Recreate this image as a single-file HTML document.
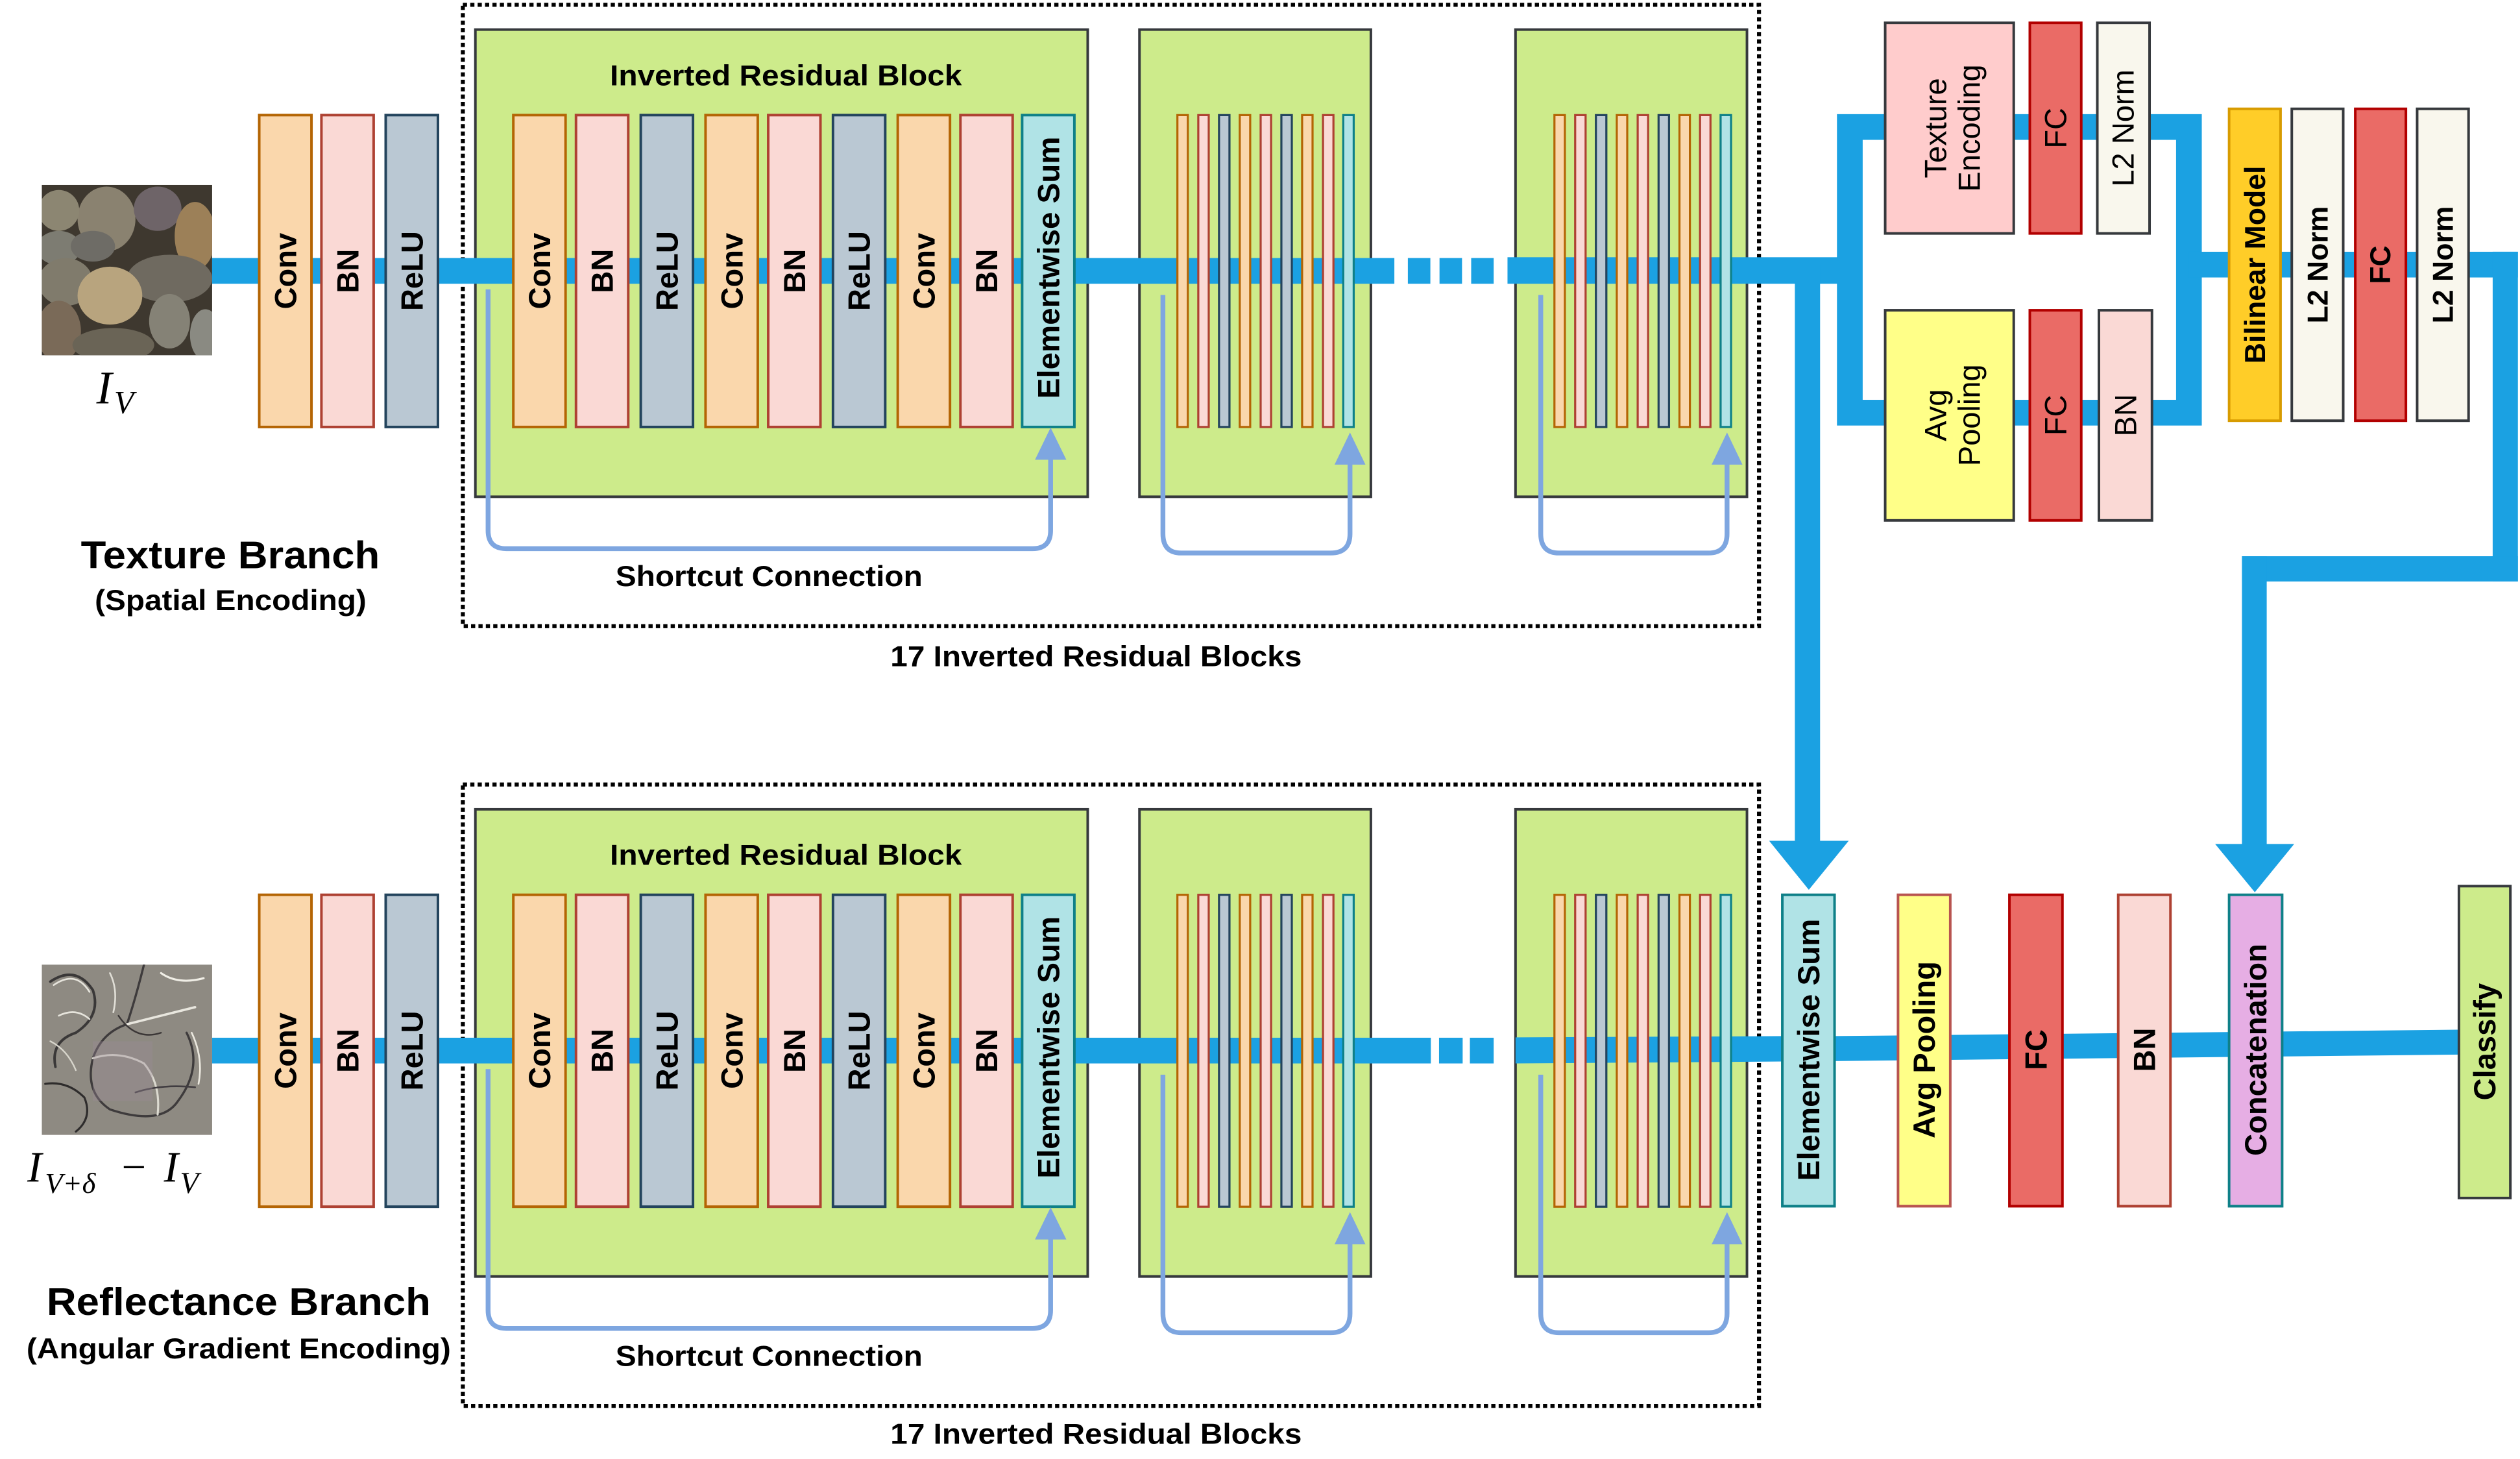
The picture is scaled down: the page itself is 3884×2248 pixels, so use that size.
<!DOCTYPE html>
<html><head><meta charset="utf-8"><style>
html,body{margin:0;padding:0;background:#fff;}
svg{display:block;}
.b{font-family:"Liberation Sans",Arial,sans-serif;font-weight:bold;}
.r{font-family:"Liberation Sans",Arial,sans-serif;}
.m{font-family:"Liberation Serif",serif;font-style:italic;}
</style></head><body>
<svg width="3884" height="2248" viewBox="0 0 1568 907.55" preserveAspectRatio="none" xmlns="http://www.w3.org/2000/svg">
<defs>
<clipPath id="ci"><rect x="0" y="0" width="100" height="100"/></clipPath>
</defs>
<rect width="1568" height="908" fill="#fff"/>

<!-- ================= TOP BRANCH ================= -->
<g transform="translate(26,115) scale(1.06)" clip-path="url(#ci)">
<rect width="100" height="100" fill="#3e382f"/>
<ellipse cx="38" cy="20" rx="17" ry="19" fill="#8a8270"/>
<ellipse cx="68" cy="14" rx="14" ry="13" fill="#6e6468"/>
<ellipse cx="90" cy="30" rx="12" ry="20" fill="#9c8058"/>
<ellipse cx="10" cy="15" rx="12" ry="12" fill="#8c8672"/>
<ellipse cx="10" cy="37" rx="13" ry="10" fill="#7d7c72"/>
<ellipse cx="30" cy="36" rx="13" ry="9" fill="#6e6c66"/>
<ellipse cx="75" cy="55" rx="25" ry="14" fill="#6f6a60"/>
<ellipse cx="14" cy="57" rx="16" ry="14" fill="#807b6c"/>
<ellipse cx="40" cy="65" rx="19" ry="17" fill="#b8a47e"/>
<ellipse cx="75" cy="80" rx="12" ry="16" fill="#858276"/>
<ellipse cx="10" cy="86" rx="13" ry="18" fill="#7a6a58"/>
<ellipse cx="42" cy="94" rx="24" ry="10" fill="#6a6456"/>
<ellipse cx="96" cy="88" rx="9" ry="15" fill="#8a8a82"/>
</g>
<text class="m" x="60" y="251" font-size="29">I</text><text class="m" x="71" y="257" font-size="20">V</text>

<rect x="288" y="3" width="806.5" height="386.5" fill="none" stroke="#000" stroke-width="2.5" stroke-dasharray="2.6 2"/>
<rect x="295.8" y="18.4" width="381" height="290.6" fill="#cdeb8b" stroke="#36393d" stroke-width="1.6"/>
<rect x="709" y="18.4" width="144" height="290.6" fill="#cdeb8b" stroke="#36393d" stroke-width="1.6"/>
<rect x="943" y="18.4" width="144" height="290.6" fill="#cdeb8b" stroke="#36393d" stroke-width="1.6"/>

<rect x="132" y="160.5" width="735.6" height="16" fill="#1ba1e2"/>
<rect x="876" y="160.5" width="14" height="16" fill="#1ba1e2"/>
<rect x="895.7" y="160.5" width="14" height="16" fill="#1ba1e2"/>
<rect x="915.4" y="160.5" width="14" height="16" fill="#1ba1e2"/>
<rect x="938" y="160" width="213" height="16.5" fill="#1ba1e2"/>
<rect x="1116.8" y="165" width="15.7" height="359" fill="#1ba1e2"/>
<polygon points="1100.8,523 1150.3,523 1125.5,553.5" fill="#1ba1e2"/>
<rect x="1151" y="79" width="211" height="177.7" fill="none" stroke="#1ba1e2" stroke-width="16"/>
<rect x="1362" y="156.6" width="204.7" height="16" fill="#1ba1e2"/>
<rect x="1551" y="156.6" width="15.7" height="205" fill="#1ba1e2"/>
<rect x="1395" y="346" width="171.7" height="15.7" fill="#1ba1e2"/>
<rect x="1395" y="346" width="15.4" height="180" fill="#1ba1e2"/>
<polygon points="1378.3,525 1427.5,525 1403,555" fill="#1ba1e2"/>

<g stroke-width="1.6">
<rect x="161.3" y="71.6" width="32.5" height="194" fill="#fad7ac" stroke="#b46504"/>
<rect x="200" y="71.6" width="32.5" height="194" fill="#fad9d5" stroke="#ae4132"/>
<rect x="240" y="71.6" width="32.5" height="194" fill="#bac8d3" stroke="#23445d"/>
<rect x="319.4" y="71.6" width="32.5" height="194" fill="#fad7ac" stroke="#b46504"/>
<rect x="358.4" y="71.6" width="32.5" height="194" fill="#fad9d5" stroke="#ae4132"/>
<rect x="398.7" y="71.6" width="32.5" height="194" fill="#bac8d3" stroke="#23445d"/>
<rect x="439" y="71.6" width="32.5" height="194" fill="#fad7ac" stroke="#b46504"/>
<rect x="478" y="71.6" width="32.5" height="194" fill="#fad9d5" stroke="#ae4132"/>
<rect x="518.3" y="71.6" width="32.5" height="194" fill="#bac8d3" stroke="#23445d"/>
<rect x="558.6" y="71.6" width="32.5" height="194" fill="#fad7ac" stroke="#b46504"/>
<rect x="597.6" y="71.6" width="32.5" height="194" fill="#fad9d5" stroke="#ae4132"/>
<rect x="636" y="71.6" width="32.5" height="194" fill="#b0e3e6" stroke="#0e8088"/>
</g>
<g stroke-width="1.3">
<rect x="732.6" y="71.6" width="6.5" height="194" fill="#fad7ac" stroke="#b46504"/>
<rect x="745.6" y="71.6" width="6.5" height="194" fill="#fad9d5" stroke="#ae4132"/>
<rect x="758.5" y="71.6" width="6.5" height="194" fill="#bac8d3" stroke="#23445d"/>
<rect x="771.4" y="71.6" width="6.5" height="194" fill="#fad7ac" stroke="#b46504"/>
<rect x="784.4" y="71.6" width="6.5" height="194" fill="#fad9d5" stroke="#ae4132"/>
<rect x="797.3" y="71.6" width="6.5" height="194" fill="#bac8d3" stroke="#23445d"/>
<rect x="810.2" y="71.6" width="6.5" height="194" fill="#fad7ac" stroke="#b46504"/>
<rect x="823.2" y="71.6" width="6.5" height="194" fill="#fad9d5" stroke="#ae4132"/>
<rect x="835.8" y="71.6" width="6.5" height="194" fill="#b0e3e6" stroke="#0e8088"/>
<rect x="967.2" y="71.6" width="6.5" height="194" fill="#fad7ac" stroke="#b46504"/>
<rect x="980.1" y="71.6" width="6.5" height="194" fill="#fad9d5" stroke="#ae4132"/>
<rect x="993" y="71.6" width="6.5" height="194" fill="#bac8d3" stroke="#23445d"/>
<rect x="1006" y="71.6" width="6.5" height="194" fill="#fad7ac" stroke="#b46504"/>
<rect x="1019" y="71.6" width="6.5" height="194" fill="#fad9d5" stroke="#ae4132"/>
<rect x="1032" y="71.6" width="6.5" height="194" fill="#bac8d3" stroke="#23445d"/>
<rect x="1045" y="71.6" width="6.5" height="194" fill="#fad7ac" stroke="#b46504"/>
<rect x="1057.8" y="71.6" width="6.5" height="194" fill="#fad9d5" stroke="#ae4132"/>
<rect x="1070.6" y="71.6" width="6.5" height="194" fill="#b0e3e6" stroke="#0e8088"/>
</g>
<g fill="none" stroke="#7ea6e0" stroke-width="3">
<path d="M303.7,180 V330 Q303.7,341.3 315,341.3 H642.5 Q653.7,341.3 653.7,330 V284"/>
<path d="M723.6,183.5 V332 Q723.6,344 735,344 H828 Q840,344 840,332 V286"/>
<path d="M958.7,183.5 V332 Q958.7,344 970,344 H1063 Q1074.6,344 1074.6,332 V286"/>
</g>
<g fill="#7ea6e0">
<polygon points="644,286 663.5,286 653.7,266"/>
<polygon points="830.4,289 849.6,289 840,269"/>
<polygon points="1065,289 1084.2,289 1074.6,269"/>
</g>

<g stroke-width="1.6">
<rect x="1173" y="14.2" width="80" height="131" fill="#ffcccc" stroke="#36393d"/>
<rect x="1263" y="14.2" width="32" height="131" fill="#ea6b66" stroke="#b20000"/>
<rect x="1305" y="14.2" width="32.5" height="131" fill="#f9f7ed" stroke="#36393d"/>
<rect x="1173" y="193" width="80" height="130.7" fill="#ffff88" stroke="#36393d"/>
<rect x="1263" y="193" width="32" height="130.7" fill="#ea6b66" stroke="#b20000"/>
<rect x="1306" y="193" width="33" height="130.7" fill="#fad9d5" stroke="#36393d"/>
<rect x="1387" y="67.7" width="32" height="194" fill="#ffcd28" stroke="#d79b00"/>
<rect x="1426" y="67.7" width="32" height="194" fill="#f9f7ed" stroke="#36393d"/>
<rect x="1465.5" y="67.7" width="31.5" height="194" fill="#ea6b66" stroke="#b20000"/>
<rect x="1504" y="67.7" width="32" height="194" fill="#f9f7ed" stroke="#36393d"/>
</g>

<g class="b" font-size="19" text-anchor="middle">
<text transform="translate(177.6,168.6) rotate(-90)" dy="0.35em">Conv</text>
<text transform="translate(216.3,168.6) rotate(-90)" dy="0.35em">BN</text>
<text transform="translate(256.3,168.6) rotate(-90)" dy="0.35em">ReLU</text>
<text transform="translate(335.7,168.6) rotate(-90)" dy="0.35em">Conv</text>
<text transform="translate(374.7,168.6) rotate(-90)" dy="0.35em">BN</text>
<text transform="translate(415,168.6) rotate(-90)" dy="0.35em">ReLU</text>
<text transform="translate(455.3,168.6) rotate(-90)" dy="0.35em">Conv</text>
<text transform="translate(494.3,168.6) rotate(-90)" dy="0.35em">BN</text>
<text transform="translate(534.6,168.6) rotate(-90)" dy="0.35em">ReLU</text>
<text transform="translate(574.9,168.6) rotate(-90)" dy="0.35em">Conv</text>
<text transform="translate(613.9,168.6) rotate(-90)" dy="0.35em">BN</text>
<text transform="translate(652.3,166.5) rotate(-90)" dy="0.35em" textLength="163" lengthAdjust="spacingAndGlyphs">Elementwise Sum</text>
<text transform="translate(1403,164.7) rotate(-90)" dy="0.35em" font-size="18">Bilinear Model</text>
<text transform="translate(1442,164.7) rotate(-90)" dy="0.35em" font-size="18">L2 Norm</text>
<text transform="translate(1481,164.7) rotate(-90)" dy="0.35em" font-size="18">FC</text>
<text transform="translate(1520,164.7) rotate(-90)" dy="0.35em" font-size="18">L2 Norm</text>
</g>
<g class="r" font-size="19" text-anchor="middle">
<text transform="translate(1213,79.7) rotate(-90)"><tspan x="0" dy="-2">Texture</tspan><tspan x="0" dy="21">Encoding</tspan></text>
<text transform="translate(1279,79.7) rotate(-90)" dy="0.35em">FC</text>
<text transform="translate(1321,79.7) rotate(-90)" dy="0.35em">L2 Norm</text>
<text transform="translate(1213,258.3) rotate(-90)"><tspan x="0" dy="-2">Avg</tspan><tspan x="0" dy="21">Pooling</tspan></text>
<text transform="translate(1279,258.3) rotate(-90)" dy="0.35em">FC</text>
<text transform="translate(1322.5,258.3) rotate(-90)" dy="0.35em">BN</text>
</g>
<g class="b" text-anchor="middle">
<text x="489" y="53" font-size="18" textLength="219" lengthAdjust="spacingAndGlyphs">Inverted Residual Block</text>
<text x="478.5" y="364.6" font-size="18" textLength="191" lengthAdjust="spacingAndGlyphs">Shortcut Connection</text>
<text x="682" y="414.5" font-size="18" textLength="256" lengthAdjust="spacingAndGlyphs">17 Inverted Residual Blocks</text>
<text x="143.3" y="353.5" font-size="24" textLength="186" lengthAdjust="spacingAndGlyphs">Texture Branch</text>
<text x="143.5" y="379.5" font-size="18" textLength="169" lengthAdjust="spacingAndGlyphs">(Spatial Encoding)</text>
</g>

<!-- ================= BOTTOM BRANCH ================= -->
<g transform="translate(26,600) scale(1.06)" clip-path="url(#ci)">
<rect width="100" height="100" fill="#8e8a82"/>
<g fill="none" stroke-linecap="round">
<path d="M5,10 Q20,0 30,15 Q35,30 20,40 Q5,45 8,60" stroke="#3a3838" stroke-width="1.5"/>
<path d="M7,12 Q20,3 28,16" stroke="#e6e4dc" stroke-width="1"/>
<path d="M60,0 Q55,20 50,35 Q35,40 30,55 Q25,75 40,85 Q70,95 80,80 Q95,60 85,40" stroke="#3e3b3c" stroke-width="1.3"/>
<path d="M50,35 Q70,30 90,25" stroke="#e8e6de" stroke-width="1.4"/>
<path d="M30,55 Q45,50 60,58 Q70,70 68,88" stroke="#dcdad0" stroke-width="1.2"/>
<path d="M2,70 Q15,68 25,78 Q30,90 20,98" stroke="#2e2c2c" stroke-width="1.2"/>
<path d="M70,5 Q80,12 95,8" stroke="#f0eee6" stroke-width="1.2"/>
<path d="M10,30 Q20,25 28,32" stroke="#e6e4dc" stroke-width="1"/>
<path d="M55,75 Q70,70 90,72" stroke="#403c40" stroke-width="1"/>
<path d="M40,5 Q45,15 42,28" stroke="#e0ded6" stroke-width="1"/>
<path d="M88,40 Q95,55 92,70" stroke="#ece9e0" stroke-width="1"/>
<path d="M5,45 Q15,50 20,62" stroke="#d8d6cc" stroke-width="0.9"/>
<path d="M45,30 Q55,45 70,40" stroke="#3a3636" stroke-width="0.9"/>
</g>
<rect x="30" y="45" width="35" height="35" fill="#9a8a98" opacity="0.35"/>
</g>
<text class="m" x="17" y="735" font-size="27">I</text>
<text class="m" x="28" y="742" font-size="18">V+δ</text>
<text class="m" x="74" y="735" font-size="27" font-style="normal">−</text>
<text class="m" x="102" y="735" font-size="27">I</text>
<text class="m" x="112" y="742" font-size="19">V</text>

<rect x="288" y="488" width="806.5" height="386.5" fill="none" stroke="#000" stroke-width="2.5" stroke-dasharray="2.6 2"/>
<rect x="295.8" y="503.4" width="381" height="290.6" fill="#cdeb8b" stroke="#36393d" stroke-width="1.6"/>
<rect x="709" y="503.4" width="144" height="290.6" fill="#cdeb8b" stroke="#36393d" stroke-width="1.6"/>
<rect x="943" y="503.4" width="144" height="290.6" fill="#cdeb8b" stroke="#36393d" stroke-width="1.6"/>

<rect x="132" y="645.5" width="758.3" height="16" fill="#1ba1e2"/>
<rect x="895.4" y="645.5" width="14.7" height="16" fill="#1ba1e2"/>
<rect x="914.6" y="645.5" width="14.8" height="16" fill="#1ba1e2"/>
<polygon points="943,645.3 1110,644.5 1110,660.3 943,661.5" fill="#1ba1e2"/>
<polygon points="1141,644.5 1531,640.5 1531,656 1141,660" fill="#1ba1e2"/>

<g stroke-width="1.6">
<rect x="161.3" y="556.6" width="32.5" height="194" fill="#fad7ac" stroke="#b46504"/>
<rect x="200" y="556.6" width="32.5" height="194" fill="#fad9d5" stroke="#ae4132"/>
<rect x="240" y="556.6" width="32.5" height="194" fill="#bac8d3" stroke="#23445d"/>
<rect x="319.4" y="556.6" width="32.5" height="194" fill="#fad7ac" stroke="#b46504"/>
<rect x="358.4" y="556.6" width="32.5" height="194" fill="#fad9d5" stroke="#ae4132"/>
<rect x="398.7" y="556.6" width="32.5" height="194" fill="#bac8d3" stroke="#23445d"/>
<rect x="439" y="556.6" width="32.5" height="194" fill="#fad7ac" stroke="#b46504"/>
<rect x="478" y="556.6" width="32.5" height="194" fill="#fad9d5" stroke="#ae4132"/>
<rect x="518.3" y="556.6" width="32.5" height="194" fill="#bac8d3" stroke="#23445d"/>
<rect x="558.6" y="556.6" width="32.5" height="194" fill="#fad7ac" stroke="#b46504"/>
<rect x="597.6" y="556.6" width="32.5" height="194" fill="#fad9d5" stroke="#ae4132"/>
<rect x="636" y="556.6" width="32.5" height="194" fill="#b0e3e6" stroke="#0e8088"/>
</g>
<g stroke-width="1.3">
<rect x="732.6" y="556.6" width="6.5" height="194" fill="#fad7ac" stroke="#b46504"/>
<rect x="745.6" y="556.6" width="6.5" height="194" fill="#fad9d5" stroke="#ae4132"/>
<rect x="758.5" y="556.6" width="6.5" height="194" fill="#bac8d3" stroke="#23445d"/>
<rect x="771.4" y="556.6" width="6.5" height="194" fill="#fad7ac" stroke="#b46504"/>
<rect x="784.4" y="556.6" width="6.5" height="194" fill="#fad9d5" stroke="#ae4132"/>
<rect x="797.3" y="556.6" width="6.5" height="194" fill="#bac8d3" stroke="#23445d"/>
<rect x="810.2" y="556.6" width="6.5" height="194" fill="#fad7ac" stroke="#b46504"/>
<rect x="823.2" y="556.6" width="6.5" height="194" fill="#fad9d5" stroke="#ae4132"/>
<rect x="835.8" y="556.6" width="6.5" height="194" fill="#b0e3e6" stroke="#0e8088"/>
<rect x="967.2" y="556.6" width="6.5" height="194" fill="#fad7ac" stroke="#b46504"/>
<rect x="980.1" y="556.6" width="6.5" height="194" fill="#fad9d5" stroke="#ae4132"/>
<rect x="993" y="556.6" width="6.5" height="194" fill="#bac8d3" stroke="#23445d"/>
<rect x="1006" y="556.6" width="6.5" height="194" fill="#fad7ac" stroke="#b46504"/>
<rect x="1019" y="556.6" width="6.5" height="194" fill="#fad9d5" stroke="#ae4132"/>
<rect x="1032" y="556.6" width="6.5" height="194" fill="#bac8d3" stroke="#23445d"/>
<rect x="1045" y="556.6" width="6.5" height="194" fill="#fad7ac" stroke="#b46504"/>
<rect x="1057.8" y="556.6" width="6.5" height="194" fill="#fad9d5" stroke="#ae4132"/>
<rect x="1070.6" y="556.6" width="6.5" height="194" fill="#b0e3e6" stroke="#0e8088"/>
</g>
<g fill="none" stroke="#7ea6e0" stroke-width="3">
<path d="M303.7,665 V815 Q303.7,826.3 315,826.3 H642.5 Q653.7,826.3 653.7,815 V769"/>
<path d="M723.6,668.5 V817 Q723.6,829 735,829 H828 Q840,829 840,817 V771"/>
<path d="M958.7,668.5 V817 Q958.7,829 970,829 H1063 Q1074.6,829 1074.6,817 V771"/>
</g>
<g fill="#7ea6e0">
<polygon points="644,771 663.5,771 653.7,751"/>
<polygon points="830.4,774 849.6,774 840,754"/>
<polygon points="1065,774 1084.2,774 1074.6,754"/>
</g>

<g stroke-width="1.6">
<rect x="1109" y="556.6" width="32.5" height="193.7" fill="#b0e3e6" stroke="#0e8088"/>
<rect x="1181" y="556.6" width="32.5" height="193.7" fill="#ffff88" stroke="#b85450"/>
<rect x="1250.3" y="556.6" width="33" height="193.7" fill="#ea6b66" stroke="#b20000"/>
<rect x="1318" y="556.6" width="32.5" height="193.7" fill="#fad9d5" stroke="#ae4132"/>
<rect x="1387" y="556.6" width="33" height="193.7" fill="#e6aee4" stroke="#0e8088"/>
<rect x="1530" y="551.2" width="32" height="194" fill="#cdeb8b" stroke="#36393d"/>
</g>

<g class="b" font-size="19" text-anchor="middle">
<text transform="translate(177.6,653.6) rotate(-90)" dy="0.35em">Conv</text>
<text transform="translate(216.3,653.6) rotate(-90)" dy="0.35em">BN</text>
<text transform="translate(256.3,653.6) rotate(-90)" dy="0.35em">ReLU</text>
<text transform="translate(335.7,653.6) rotate(-90)" dy="0.35em">Conv</text>
<text transform="translate(374.7,653.6) rotate(-90)" dy="0.35em">BN</text>
<text transform="translate(415,653.6) rotate(-90)" dy="0.35em">ReLU</text>
<text transform="translate(455.3,653.6) rotate(-90)" dy="0.35em">Conv</text>
<text transform="translate(494.3,653.6) rotate(-90)" dy="0.35em">BN</text>
<text transform="translate(534.6,653.6) rotate(-90)" dy="0.35em">ReLU</text>
<text transform="translate(574.9,653.6) rotate(-90)" dy="0.35em">Conv</text>
<text transform="translate(613.9,653.6) rotate(-90)" dy="0.35em">BN</text>
<text transform="translate(652.3,651.5) rotate(-90)" dy="0.35em" textLength="163" lengthAdjust="spacingAndGlyphs">Elementwise Sum</text>
<text transform="translate(1125.4,653) rotate(-90)" dy="0.35em" textLength="163" lengthAdjust="spacingAndGlyphs">Elementwise Sum</text>
<text transform="translate(1197.3,653) rotate(-90)" dy="0.35em">Avg Pooling</text>
<text transform="translate(1266.8,653) rotate(-90)" dy="0.35em">FC</text>
<text transform="translate(1334.3,653) rotate(-90)" dy="0.35em">BN</text>
<text transform="translate(1403.5,653) rotate(-90)" dy="0.35em">Concatenation</text>
<text transform="translate(1546,648) rotate(-90)" dy="0.35em">Classify</text>
</g>
<g class="b" text-anchor="middle">
<text x="489" y="538" font-size="18" textLength="219" lengthAdjust="spacingAndGlyphs">Inverted Residual Block</text>
<text x="478.5" y="849.6" font-size="18" textLength="191" lengthAdjust="spacingAndGlyphs">Shortcut Connection</text>
<text x="682" y="898" font-size="18" textLength="256" lengthAdjust="spacingAndGlyphs">17 Inverted Residual Blocks</text>
<text x="148.5" y="818" font-size="24" textLength="239" lengthAdjust="spacingAndGlyphs">Reflectance Branch</text>
<text x="148.5" y="845" font-size="18" textLength="264" lengthAdjust="spacingAndGlyphs">(Angular Gradient Encoding)</text>
</g>
</svg>
</body></html>
